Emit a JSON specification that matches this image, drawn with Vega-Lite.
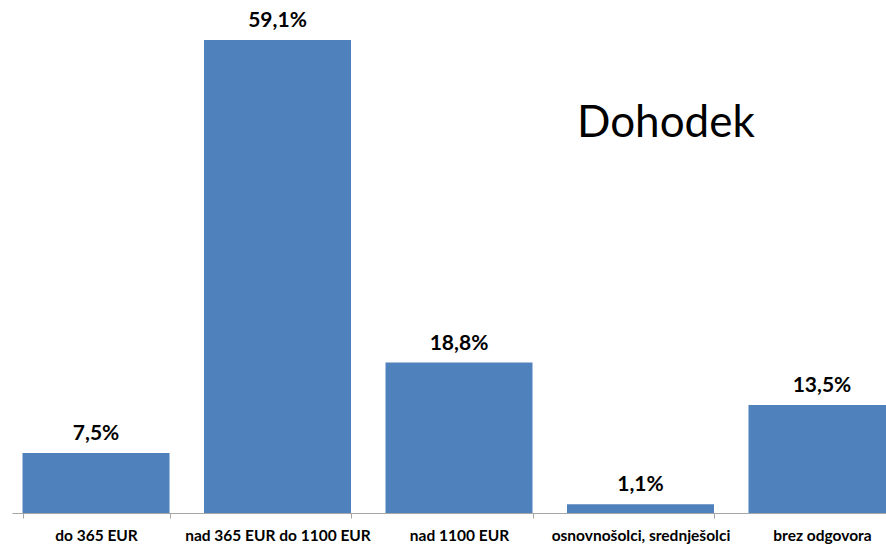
{
  "$schema": "https://vega.github.io/schema/vega-lite/v6.json",
  "width": 894,
  "height": 513,
  "autosize": {"type": "none"},
  "padding": {"left": 12, "top": 0, "right": 0, "bottom": 31},
  "background": "white",
  "config": {
    "view": {"stroke": null},
    "locale": {"number": {"decimal": ",", "thousands": ".", "grouping": [3], "currency": ["", " €"]}}
  },
  "title": {
    "text": "Dohodek",
    "anchor": "start",
    "frame": "group",
    "orient": "top",
    "offset": 0,
    "dx": 565,
    "dy": 181,
    "baseline": "alphabetic",
    "font": "Lato",
    "fontSize": 44,
    "fontWeight": "normal",
    "color": "#000000"
  },
  "data": {
    "values": [
      {"kategorija": "do 365 EUR", "delez": 0.075},
      {"kategorija": "nad 365 EUR do 1100 EUR", "delez": 0.591},
      {"kategorija": "nad 1100 EUR", "delez": 0.188},
      {"kategorija": "osnovnošolci, srednješolci", "delez": 0.011},
      {"kategorija": "brez odgovora", "delez": 0.135}
    ]
  },
  "encoding": {
    "x": {
      "field": "kategorija",
      "type": "nominal",
      "sort": null,
      "scale": {"paddingInner": 0.19, "paddingOuter": 0.058},
      "axis": {
        "title": null,
        "labelAngle": 0,
        "labelFont": "Lato",
        "labelFontSize": 15.5,
        "labelFontWeight": "bold",
        "labelColor": "#000000",
        "labelPadding": 10,
        "labelOverlap": false,
        "labelBound": false,
        "labelLimit": 400,
        "tickBand": "extent",
        "tickSize": 5,
        "tickColor": "#A6A6A6",
        "domainColor": "#A6A6A6",
        "domainWidth": 1
      }
    },
    "y": {
      "field": "delez",
      "type": "quantitative",
      "scale": {"domain": [0, 0.641], "nice": false},
      "axis": null
    }
  },
  "layer": [
    {"mark": {"type": "bar", "color": "#4F81BD"}},
    {
      "mark": {
        "type": "text",
        "baseline": "alphabetic",
        "dy": -13,
        "font": "Lato",
        "fontSize": 21,
        "fontWeight": "bold",
        "color": "#000000"
      },
      "encoding": {"text": {"field": "delez", "type": "quantitative", "format": ".1%"}}
    }
  ]
}
